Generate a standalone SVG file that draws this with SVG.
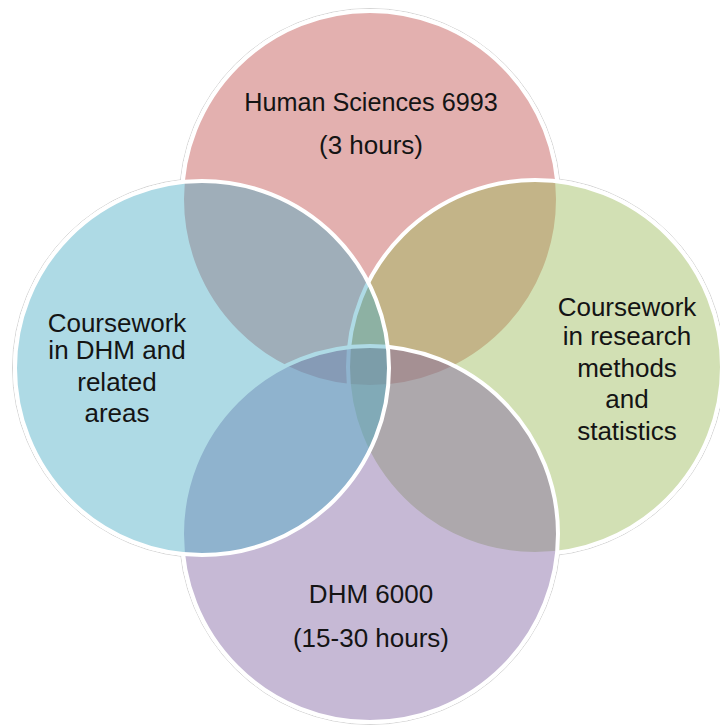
<svg xmlns="http://www.w3.org/2000/svg" width="720" height="728" viewBox="0 0 720 728">
<style>
.ring{fill:none;stroke:#d6d6d6;stroke-width:1}
.base{fill:#fff}
.c{stroke:#fff;stroke-width:4;fill-opacity:0.45}
.t{font-family:"Liberation Sans",Arial,sans-serif;font-size:26px;fill:#141414;text-anchor:middle}
</style>
<rect width="720" height="728" fill="#fff"/>
<g id="halo">
<circle class="ring" cx="370" cy="199" r="190.5"/>
<circle class="ring" cx="202" cy="368" r="189.5"/>
<circle class="ring" cx="535" cy="367" r="189.5"/>
<circle class="ring" cx="370" cy="534" r="190.5"/>
<circle class="base" cx="370" cy="199" r="190"/>
<circle class="base" cx="202" cy="368" r="189"/>
<circle class="base" cx="535" cy="367" r="189"/>
<circle class="base" cx="370" cy="534" r="190"/>
</g>
<g id="top">
<circle class="c" cx="370" cy="199" r="188" fill="#C0504D"/>
</g>
<g id="right">
<circle class="c" cx="535" cy="367" r="187" fill="#9BBB59"/>
</g>
<g id="bottom">
<circle class="c" cx="370" cy="534" r="188" fill="#8064A2"/>
</g>
<g id="left">
<circle class="c" cx="202" cy="368" r="187" fill="#4BACC6"/>
</g>
<g id="labels">
<text class="t" x="371" y="111" style="font-size:25.2px">Human Sciences 6993</text>
<text class="t" x="371" y="154">(3 hours)</text>
<text class="t" x="117" y="332">Coursework</text>
<text class="t" x="117" y="359">in DHM and</text>
<text class="t" x="117" y="391">related</text>
<text class="t" x="117" y="422">areas</text>
<text class="t" x="627" y="316">Coursework</text>
<text class="t" x="627" y="345">in research</text>
<text class="t" x="627" y="377">methods</text>
<text class="t" x="627" y="408">and</text>
<text class="t" x="627" y="440">statistics</text>
<text class="t" x="371" y="603">DHM 6000</text>
<text class="t" x="371" y="647">(15-30 hours)</text>
</g>
<g id="connectors"/>
</svg>
